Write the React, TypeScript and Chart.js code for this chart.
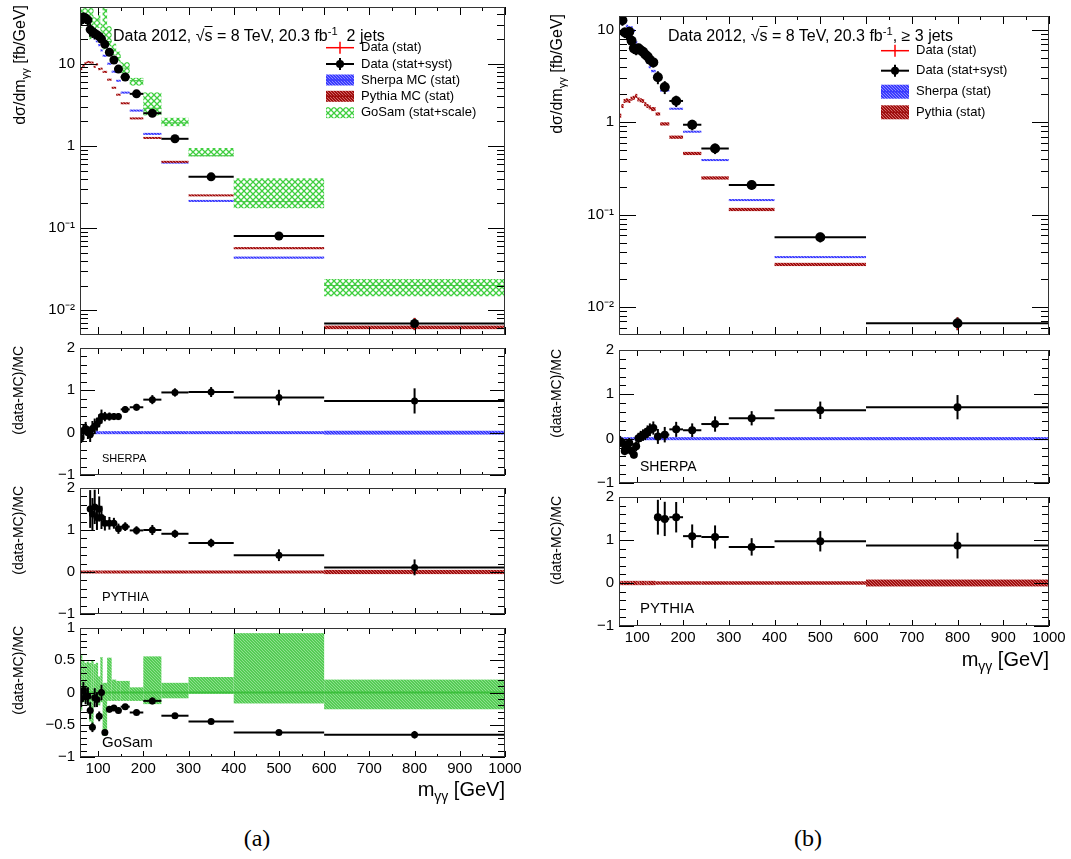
import React, { useEffect, useRef } from "react";
import { Chart, registerables } from "chart.js";

Chart.register(...registerables);

const FONT = '"Liberation Sans", Arial, Helvetica, sans-serif';
Chart.defaults.font.family = FONT;
Chart.defaults.color = "#000";

type Num = number | null;

// ================= (a) diphoton + 2 jets =================
const edges2j = [60, 65, 70, 75, 80, 85, 90, 95, 100, 105, 110, 120, 130, 140, 150, 170, 200, 240, 300, 400, 600, 1000];
const data2j = [34, 37, 36, 34, 26, 24.5, 23.5, 22.5, 21.5, 20, 17.2, 13.8, 11.1, 8.6, 6.9, 4.3, 2.5, 1.22, 0.42, 0.08, 0.0069];
const dataStat2j = [0.06, 0.06, 0.06, 0.07, 0.08, 0.08, 0.08, 0.07, 0.07, 0.07, 0.05, 0.05, 0.05, 0.05, 0.04, 0.04, 0.05, 0.04, 0.05, 0.09, 0.16];
const dataTot2j = [0.14, 0.13, 0.14, 0.15, 0.18, 0.16, 0.16, 0.13, 0.12, 0.12, 0.08, 0.07, 0.06, 0.06, 0.05, 0.05, 0.06, 0.05, 0.06, 0.1, 0.17];
const sherpa2j = [38.6, 35.2, 32.7, 34, 27.4, 22.3, 20.4, 18.75, 16.8, 14.5, 12.5, 10.0, 8.0, 6.2, 4.45, 2.69, 1.4, 0.626, 0.214, 0.0437, 0.0039];
const sherpaStat2j = [0.02, 0.02, 0.02, 0.02, 0.02, 0.02, 0.02, 0.02, 0.02, 0.02, 0.015, 0.015, 0.015, 0.015, 0.015, 0.015, 0.015, 0.015, 0.02, 0.03, 0.045];
const pythia2j = [8.6, 9.4, 10.2, 10.5, 10.4, 10.3, 9.2, 9.8, 8.6, 8.7, 7.96, 6.4, 5.1, 4.2, 3.3, 2.16, 1.25, 0.64, 0.25, 0.057, 0.0062];
const pythiaStat2j = [0.03, 0.03, 0.03, 0.03, 0.03, 0.03, 0.03, 0.03, 0.03, 0.03, 0.02, 0.02, 0.02, 0.02, 0.02, 0.02, 0.02, 0.02, 0.025, 0.03, 0.05];
const gosam2j = [37.8, 35.9, 37.9, 36.2, 36.1, 53.3, 25.5, 25.3, 34.1, 20, 45.3, 18.6, 14.6, 11.9, 8.85, 6.23, 2.87, 1.91, 0.76, 0.21, 0.02];
const gosamUp2j = [0.59, 0.5, 0.46, 0.48, 0.46, 0.5, 0.44, 0.46, 0.25, 0.55, 0.15, 0.54, 0.2, 0.18, 0.18, 0.08, 0.56, 0.15, 0.24, 0.92, 0.2];
const gosamDown2j = [-0.28, -0.15, -0.15, -0.2, -0.45, -0.58, -0.13, -0.13, -0.2, -0.15, -0.67, -0.13, -0.13, -0.13, -0.13, -0.13, -0.18, -0.09, -0.02, -0.17, -0.26];
const ratioSherpa2j: Num[] = [-0.12, 0.05, 0.1, 0.0, -0.05, 0.1, 0.15, 0.2, 0.28, 0.38, 0.38, 0.38, 0.38, 0.38, 0.55, 0.6, 0.78, 0.95, 0.96, 0.83, 0.75];
const ratioPythia2j: Num[] = [null, null, null, null, 1.5, 1.38, 1.55, 1.3, 1.5, 1.3, 1.16, 1.16, 1.16, 1.03, 1.08, 0.99, 1.0, 0.91, 0.69, 0.4, 0.11];
const ratioGosam2j: Num[] = [-0.1, 0.03, -0.05, -0.06, -0.28, -0.54, -0.08, -0.11, -0.37, 0.0, -0.62, -0.26, -0.24, -0.28, -0.22, -0.31, -0.13, -0.36, -0.45, -0.62, -0.655];

// ================= (b) diphoton + >= 3 jets =================
const edges3j = [60, 65, 70, 75, 80, 85, 90, 95, 100, 105, 110, 115, 120, 125, 130, 140, 150, 170, 200, 240, 300, 400, 600, 1000];
const data3j = [13.8, 12.7, 9.35, 9.1, 9.5, 7.6, 6.3, 6.1, 6.3, 6.0, 5.8, 5.4, 5.15, 4.75, 4.44, 3.07, 2.4, 1.7, 0.94, 0.52, 0.21, 0.057, 0.0067];
const dataStat3j = [0.08, 0.08, 0.08, 0.08, 0.08, 0.08, 0.08, 0.08, 0.08, 0.08, 0.08, 0.08, 0.08, 0.08, 0.08, 0.1, 0.1, 0.09, 0.09, 0.09, 0.08, 0.1, 0.15];
const dataTot3j = [0.13, 0.13, 0.13, 0.13, 0.13, 0.13, 0.13, 0.13, 0.12, 0.12, 0.12, 0.12, 0.12, 0.12, 0.12, 0.16, 0.16, 0.14, 0.13, 0.13, 0.11, 0.12, 0.16];
const sherpa3j = [14.7, 14.1, 13.0, 11.0, 10.6, 10.6, 9.8, 7.35, 6.24, 5.71, 5.37, 4.91, 4.44, 3.96, 3.58, 2.92, 2.2, 1.4, 0.79, 0.39, 0.144, 0.0348, 0.0039];
const sherpaStat3j = [0.03, 0.03, 0.03, 0.03, 0.03, 0.03, 0.03, 0.03, 0.03, 0.03, 0.03, 0.03, 0.03, 0.03, 0.03, 0.02, 0.02, 0.02, 0.02, 0.02, 0.02, 0.025, 0.035];
const pythia3j = [1.18, 1.5, 1.7, 1.73, 1.7, 1.8, 1.84, 1.93, 1.77, 1.73, 1.7, 1.57, 1.5, 1.45, 1.39, 1.23, 0.96, 0.69, 0.46, 0.25, 0.114, 0.029, 0.0036];
const pythiaStat3j = [0.05, 0.05, 0.05, 0.05, 0.05, 0.05, 0.05, 0.05, 0.05, 0.05, 0.05, 0.05, 0.05, 0.05, 0.05, 0.04, 0.04, 0.04, 0.04, 0.04, 0.04, 0.04, 0.08];
const ratioSherpa3j: Num[] = [-0.06, -0.1, -0.28, -0.17, -0.1, -0.28, -0.36, -0.17, 0.01, 0.05, 0.08, 0.1, 0.16, 0.2, 0.24, 0.05, 0.09, 0.21, 0.19, 0.33, 0.46, 0.64, 0.71];
const ratioPythia3j: Num[] = [null, null, null, null, null, null, null, null, null, null, null, null, null, null, null, 1.53, 1.49, 1.53, 1.09, 1.07, 0.84, 0.97, 0.87];

// ================= axes =================
const massTicks = [100, 200, 300, 400, 500, 600, 700, 800, 900, 1000];
const massMinorTicks = [150, 250, 350, 450, 550, 650, 750, 850, 950];
const logTickValues = [0.01, 0.1, 1, 10];
const logTickLabels = ["10\u207B\u00B2", "10\u207B\u00B9", "1", "10"];
const ratioTickValues = [-1, 0, 1, 2];
const ratioTickLabels = ["\u22121", "0", "1", "2"];
const gosamTickValues = [-1, -0.5, 0, 0.5, 1];
const gosamTickLabels = ["\u22121", "\u22120.5", "0", "0.5", "1"];

function logMinor(min: number, max: number): number[] {
  const out: number[] = [];
  for (let k = -3; k <= 2; k++) for (let m = 2; m <= 9; m++) {
    const v = m * Math.pow(10, k);
    if (v > min && v < max) out.push(v);
  }
  return out;
}
function linMinor(min: number, max: number, step: number, major: number): number[] {
  const out: number[] = [];
  const n = Math.round((max - min) / step);
  for (let i = 1; i < n; i++) {
    const v = +(min + i * step).toFixed(6);
    if (Math.abs(v / major - Math.round(v / major)) > 1e-6) out.push(v);
  }
  return out;
}

// ================= types =================
interface BandSpec { edges: number[]; lo: number[]; hi: number[]; mid: number[]; fill: string; line?: string; lineWidth?: number; minPx: number; }
interface PointSpec { edges: number[]; vals: Num[]; tot: Num[]; stat?: Num[]; radius: number; }
interface LegendItem { label: string; kind: "stat" | "tot" | "band"; fill?: string; line?: string; }
interface LegendSpec { x0: number; x1: number; tx: number; ys: number[]; sh: number; items: LegendItem[]; }
interface PanelSpec {
  key: string; x0: number; y0: number; w: number; h: number;
  log: boolean; yMin: number; yMax: number; yTicks: number[]; yLabels: string[]; yMinor: number[];
  showX: boolean; yMajLen: number; yMinLen: number; xMajLen: number; xMinLen: number;
  bands: BandSpec[]; points: PointSpec; legend?: LegendSpec;
}

const PADL = 70, PADT = 12, PADR = 26;

// ================= patterns =================
const patternCache = new WeakMap<CanvasRenderingContext2D, Record<string, CanvasPattern>>();
function makePattern(ctx: CanvasRenderingContext2D, key: string): CanvasPattern {
  const t = document.createElement("canvas");
  const g = t.getContext("2d") as CanvasRenderingContext2D;
  if (key === "gosamMain") {
    t.width = 6; t.height = 6;
    g.strokeStyle = "#3fcf3f"; g.lineWidth = 1.3;
    g.beginPath(); g.moveTo(0, 0); g.lineTo(6, 6); g.moveTo(6, 0); g.lineTo(0, 6); g.stroke();
  } else {
    const cols: Record<string, string[]> = {
      sherpa: ["#3b3bff", "#8c8cff"],
      pythia: ["#a00f0f", "#d36a6a"],
      gosamRatio: ["#55cc55", "#8fe08f"],
    };
    const c = cols[key];
    t.width = 3; t.height = 3;
    g.fillStyle = c[0]; g.fillRect(0, 0, 3, 3);
    g.fillStyle = c[1]; g.fillRect(0, 0, 1, 1); g.fillRect(1, 1, 1, 1); g.fillRect(2, 2, 1, 1);
  }
  return ctx.createPattern(t, "repeat") as CanvasPattern;
}
function fillOf(ctx: CanvasRenderingContext2D, key: string): CanvasPattern {
  let m = patternCache.get(ctx);
  if (!m) { m = {}; patternCache.set(ctx, m); }
  if (!m[key]) m[key] = makePattern(ctx, key);
  return m[key];
}

// ================= painting =================
function seg(ctx: CanvasRenderingContext2D, x1: number, y1: number, x2: number, y2: number) {
  ctx.beginPath(); ctx.moveTo(x1, y1); ctx.lineTo(x2, y2); ctx.stroke();
}

function paintBody(chart: any, spec: PanelSpec) {
  const ctx = chart.ctx as CanvasRenderingContext2D;
  const { left, right, top, bottom } = chart.chartArea;
  const X = (v: number) => chart.scales.x.getPixelForValue(v);
  const Y = (v: number) => chart.scales.y.getPixelForValue(v);
  ctx.save();
  ctx.beginPath(); ctx.rect(left, top, right - left, bottom - top); ctx.clip();
  for (const b of spec.bands) {
    ctx.fillStyle = fillOf(ctx, b.fill);
    for (let i = 0; i < b.mid.length; i++) {
      const xl = X(b.edges[i]), xr = X(b.edges[i + 1]);
      let y1 = Y(b.hi[i]), y2 = Y(b.lo[i]);
      if (y2 - y1 < b.minPx) { const c = Y(b.mid[i]); y1 = c - b.minPx / 2; y2 = c + b.minPx / 2; }
      ctx.fillRect(xl, y1, xr - xl, y2 - y1);
    }
    if (b.line) {
      ctx.strokeStyle = b.line; ctx.lineWidth = b.lineWidth || 1;
      for (let i = 0; i < b.mid.length; i++) {
        const yc = Y(b.mid[i]);
        seg(ctx, X(b.edges[i]), yc, X(b.edges[i + 1]), yc);
      }
    }
  }
  const p = spec.points;
  for (let i = 0; i < p.vals.length; i++) {
    const v = p.vals[i];
    if (v == null) continue;
    const xl = X(p.edges[i]), xr = X(p.edges[i + 1]);
    const xc = X((p.edges[i] + p.edges[i + 1]) / 2);
    const yc = Y(v);
    const e = p.tot[i] || 0;
    ctx.strokeStyle = "#000"; ctx.lineWidth = 2;
    seg(ctx, xl, yc, xr, yc);
    seg(ctx, xc, Y(v - e), xc, Y(v + e));
    if (p.stat) {
      const s = p.stat[i] || 0;
      ctx.strokeStyle = "#ff0000"; ctx.lineWidth = 1.5;
      seg(ctx, xc, Y(v - s), xc, Y(v + s));
    }
  }
  ctx.restore();
}

function paintFrame(chart: any, spec: PanelSpec) {
  const ctx = chart.ctx as CanvasRenderingContext2D;
  const { left, right, top, bottom } = chart.chartArea;
  const X = (v: number) => chart.scales.x.getPixelForValue(v);
  const Y = (v: number) => chart.scales.y.getPixelForValue(v);
  ctx.save();
  ctx.strokeStyle = "#000"; ctx.lineWidth = 1;
  ctx.beginPath();
  const xt = (v: number, len: number) => {
    const p = Math.round(X(v)) + 0.5;
    ctx.moveTo(p, bottom); ctx.lineTo(p, bottom - len);
    ctx.moveTo(p, top); ctx.lineTo(p, top + len);
  };
  const yt = (v: number, len: number) => {
    const p = Math.round(Y(v)) + 0.5;
    ctx.moveTo(left, p); ctx.lineTo(left + len, p);
    ctx.moveTo(right, p); ctx.lineTo(right - len, p);
  };
  massTicks.forEach((v) => xt(v, spec.xMajLen));
  massMinorTicks.forEach((v) => xt(v, spec.xMinLen));
  spec.yTicks.forEach((v) => yt(v, spec.yMajLen));
  spec.yMinor.forEach((v) => yt(v, spec.yMinLen));
  ctx.stroke();
  ctx.strokeStyle = "#333";
  ctx.strokeRect(left + 0.5, top + 0.5, right - left - 1, bottom - top - 1);

  const lg = spec.legend;
  if (lg) {
    const ox = spec.x0 - PADL, oy = spec.y0 - PADT;
    const x0 = lg.x0 - ox, x1 = lg.x1 - ox, xm = (x0 + x1) / 2, tx = lg.tx - ox;
    ctx.font = `13px ${FONT}`;
    ctx.textBaseline = "middle";
    ctx.textAlign = "left";
    lg.items.forEach((it, k) => {
      const yc = lg.ys[k] - oy;
      if (it.kind === "stat") {
        ctx.strokeStyle = "#ff0000"; ctx.lineWidth = 1.5;
        seg(ctx, x0, yc, x1, yc); seg(ctx, xm, yc - 6, xm, yc + 6);
      } else if (it.kind === "tot") {
        ctx.strokeStyle = "#000"; ctx.lineWidth = 2;
        seg(ctx, x0, yc, x1, yc); seg(ctx, xm, yc - 6, xm, yc + 6);
        ctx.fillStyle = "#000"; ctx.beginPath(); ctx.arc(xm, yc, 4, 0, Math.PI * 2); ctx.fill();
      } else {
        ctx.fillStyle = fillOf(ctx, it.fill as string);
        ctx.fillRect(x0, yc - lg.sh / 2, x1 - x0, lg.sh);
        if (it.line) { ctx.strokeStyle = it.line; ctx.lineWidth = 1.5; seg(ctx, x0, yc, x1, yc); }
      }
      ctx.fillStyle = "#000";
      ctx.fillText(it.label, tx, yc);
    });
  }
  ctx.restore();
}

function makeConfig(spec: PanelSpec, B: number): any {
  const e = spec.points.edges;
  const pts = spec.points.vals
    .map((y, i) => ({ x: (e[i] + e[i + 1]) / 2, y }))
    .filter((q) => q.y != null);
  return {
    type: "scatter",
    data: {
      datasets: [{
        label: "data", data: pts, pointRadius: spec.points.radius, pointHoverRadius: spec.points.radius,
        pointBackgroundColor: "#000", pointBorderColor: "#000", pointBorderWidth: 0, showLine: false,
      }],
    },
    options: {
      responsive: false, maintainAspectRatio: false, animation: false, devicePixelRatio: 1, events: [],
      layout: { padding: { left: 0, top: PADT, right: PADR, bottom: 0 }, autoPadding: false },
      plugins: { legend: { display: false }, tooltip: { enabled: false }, title: { display: false } },
      scales: {
        x: {
          type: "linear", position: "bottom", min: 60, max: 1000, bounds: "data",
          afterBuildTicks: (s: any) => { s.ticks = massTicks.map((v) => ({ value: v })); },
          afterFit: (s: any) => { s.height = B; },
          grid: { display: false, drawTicks: false }, border: { display: false },
          ticks: {
            display: spec.showX, autoSkip: false, maxRotation: 0, minRotation: 0, padding: 3,
            color: "#000", font: { size: 15, family: FONT }, callback: (v: any) => String(v),
          },
        },
        y: {
          type: spec.log ? "logarithmic" : "linear", position: "left", min: spec.yMin, max: spec.yMax, bounds: "data",
          afterBuildTicks: (s: any) => { s.ticks = spec.yTicks.map((v) => ({ value: v })); },
          afterFit: (s: any) => { s.width = PADL; },
          grid: { display: false, drawTicks: false }, border: { display: false },
          ticks: {
            autoSkip: false, padding: 5, color: "#000", font: { size: 15, family: FONT },
            callback: (_v: any, i: number) => spec.yLabels[i],
          },
        },
      },
    },
    plugins: [{
      id: "rootStyle",
      beforeDatasetsDraw: (c: any) => paintBody(c, spec),
      afterDraw: (c: any) => paintFrame(c, spec),
    }],
  };
}

function Panel({ spec }: { spec: PanelSpec }) {
  const ref = useRef<HTMLCanvasElement | null>(null);
  const B = spec.showX ? 30 : 12;
  const cw = spec.w + PADL + PADR, ch = spec.h + PADT + B;
  useEffect(() => {
    const cv = ref.current;
    if (!cv) return;
    const chart = new Chart(cv, makeConfig(spec, B));
    return () => chart.destroy();
  }, [spec]);
  return (
    <canvas ref={ref} width={cw} height={ch}
      style={{ position: "absolute", left: spec.x0 - PADL, top: spec.y0 - PADT, width: cw, height: ch }} />
  );
}

// ================= panel specs =================
const scale = (a: number[], b: number[], s: number) => a.map((v, i) => v * (1 + s * b[i]));
const zeros = (n: number) => new Array(n).fill(0);
const neg = (a: number[]) => a.map((v) => -v);
const ratioErr = (r: Num[], rel: number[]): Num[] => r.map((v, i) => (v == null ? null : rel[i] * (1 + v)));

const mainA: PanelSpec = {
  key: "mainA", x0: 80, y0: 5, w: 425, h: 332, log: true, yMin: 0.005, yMax: 49,
  yTicks: logTickValues, yLabels: logTickLabels, yMinor: logMinor(0.005, 49),
  showX: false, yMajLen: 17, yMinLen: 8, xMajLen: 8, xMinLen: 4,
  bands: [
    { edges: edges2j, lo: scale(gosam2j, gosamDown2j, 1), hi: scale(gosam2j, gosamUp2j, 1), mid: gosam2j, fill: "gosamMain", line: "#46c846", lineWidth: 1, minPx: 0 },
    { edges: edges2j, lo: scale(sherpa2j, sherpaStat2j, -1), hi: scale(sherpa2j, sherpaStat2j, 1), mid: sherpa2j, fill: "sherpa", minPx: 2 },
    { edges: edges2j, lo: scale(pythia2j, pythiaStat2j, -1), hi: scale(pythia2j, pythiaStat2j, 1), mid: pythia2j, fill: "pythia", minPx: 2 },
  ],
  points: { edges: edges2j, vals: data2j, tot: data2j.map((v, i) => v * dataTot2j[i]), stat: data2j.map((v, i) => v * dataStat2j[i]), radius: 4.5 },
  legend: {
    x0: 326, x1: 354, tx: 361, ys: [47.7, 64, 80, 96.3, 112.7], sh: 11,
    items: [
      { label: "Data (stat)", kind: "stat" },
      { label: "Data (stat+syst)", kind: "tot" },
      { label: "Sherpa MC (stat)", kind: "band", fill: "sherpa", line: "#3b3bff" },
      { label: "Pythia MC (stat)", kind: "band", fill: "pythia", line: "#a00f0f" },
      { label: "GoSam (stat+scale)", kind: "band", fill: "gosamMain" },
    ],
  },
};

const ratioCommon = {
  log: false, yMin: -1, yMax: 2, yTicks: ratioTickValues, yLabels: ratioTickLabels, yMinor: linMinor(-1, 2, 0.2, 1),
  yMajLen: 15, yMinLen: 7, xMajLen: 6, xMinLen: 3,
};

const sherpaA: PanelSpec = {
  ...ratioCommon, key: "sherpaA", x0: 80, y0: 346, w: 425, h: 131, showX: false,
  bands: [{ edges: edges2j, lo: neg(sherpaStat2j), hi: sherpaStat2j, mid: zeros(21), fill: "sherpa", minPx: 3 }],
  points: { edges: edges2j, vals: ratioSherpa2j, tot: ratioErr(ratioSherpa2j, dataTot2j), radius: 3.5 },
};
const pythiaA: PanelSpec = {
  ...ratioCommon, key: "pythiaA", x0: 80, y0: 486, w: 425, h: 130, showX: false,
  bands: [{ edges: edges2j, lo: neg(pythiaStat2j), hi: pythiaStat2j, mid: zeros(21), fill: "pythia", minPx: 3 }],
  points: { edges: edges2j, vals: ratioPythia2j, tot: ratioErr(ratioPythia2j, dataTot2j), radius: 3.5 },
};
const gosamA: PanelSpec = {
  key: "gosamA", x0: 80, y0: 626, w: 425, h: 131, showX: true,
  log: false, yMin: -1, yMax: 1, yTicks: gosamTickValues, yLabels: gosamTickLabels, yMinor: linMinor(-1, 1, 0.1, 0.5),
  yMajLen: 15, yMinLen: 7, xMajLen: 6, xMinLen: 3,
  bands: [{ edges: edges2j, lo: gosamDown2j, hi: gosamUp2j, mid: zeros(21), fill: "gosamRatio", line: "#3cbf3c", lineWidth: 2, minPx: 0 }],
  points: { edges: edges2j, vals: ratioGosam2j, tot: ratioErr(ratioGosam2j, dataTot2j), radius: 3.5 },
};

const mainB: PanelSpec = {
  key: "mainB", x0: 619, y0: 14, w: 430, h: 323, log: true, yMin: 0.005, yMax: 14.1,
  yTicks: logTickValues, yLabels: logTickLabels, yMinor: logMinor(0.005, 14.1),
  showX: false, yMajLen: 17, yMinLen: 8, xMajLen: 8, xMinLen: 4,
  bands: [
    { edges: edges3j, lo: scale(sherpa3j, sherpaStat3j, -1), hi: scale(sherpa3j, sherpaStat3j, 1), mid: sherpa3j, fill: "sherpa", minPx: 2 },
    { edges: edges3j, lo: scale(pythia3j, pythiaStat3j, -1), hi: scale(pythia3j, pythiaStat3j, 1), mid: pythia3j, fill: "pythia", minPx: 2 },
  ],
  points: { edges: edges3j, vals: data3j, tot: data3j.map((v, i) => v * dataTot3j[i]), stat: data3j.map((v, i) => v * dataStat3j[i]), radius: 5 },
  legend: {
    x0: 881, x1: 909, tx: 916, ys: [50.7, 70.7, 91.7, 112.3], sh: 14,
    items: [
      { label: "Data (stat)", kind: "stat" },
      { label: "Data (stat+syst)", kind: "tot" },
      { label: "Sherpa (stat)", kind: "band", fill: "sherpa", line: "#3b3bff" },
      { label: "Pythia (stat)", kind: "band", fill: "pythia", line: "#a00f0f" },
    ],
  },
};
const sherpaB: PanelSpec = {
  ...ratioCommon, key: "sherpaB", x0: 619, y0: 348, w: 430, h: 137, showX: false,
  bands: [{ edges: edges3j, lo: neg(sherpaStat3j), hi: sherpaStat3j, mid: zeros(23), fill: "sherpa", minPx: 3 }],
  points: { edges: edges3j, vals: ratioSherpa3j, tot: ratioErr(ratioSherpa3j, dataTot3j), radius: 4 },
};
const pythiaB: PanelSpec = {
  ...ratioCommon, key: "pythiaB", x0: 619, y0: 495, w: 430, h: 131, showX: true,
  bands: [{ edges: edges3j, lo: neg(pythiaStat3j), hi: pythiaStat3j, mid: zeros(23), fill: "pythia", minPx: 3 }],
  points: { edges: edges3j, vals: ratioPythia3j, tot: ratioErr(ratioPythia3j, dataTot3j), radius: 4 },
};

const panels = [mainA, sherpaA, pythiaA, gosamA, mainB, sherpaB, pythiaB];

// ================= text overlays =================
const sub = { fontSize: "0.7em", verticalAlign: "-0.35em" };
const sup = { fontSize: "0.7em", verticalAlign: "0.5em" };

function Txt({ x, top, size, children, align, family }: any) {
  const tr = align === "right" ? "translateX(-100%)" : align === "center" ? "translateX(-50%)" : "none";
  return (
    <div style={{ position: "absolute", left: x, top, fontSize: size, lineHeight: `${size}px`, fontFamily: family || FONT, color: "#000", whiteSpace: "pre", transform: tr }}>
      {children}
    </div>
  );
}
function YTitle({ cx, top, size, children }: any) {
  return (
    <div style={{ position: "absolute", left: cx - size / 2, top, fontSize: size, lineHeight: `${size}px`, fontFamily: FONT, color: "#000", whiteSpace: "pre", transformOrigin: "0 0", transform: "rotate(-90deg) translateX(-100%)" }}>
      {children}
    </div>
  );
}
const Sqrt = () => (<span>{"\u221A"}<span style={{ textDecoration: "overline" }}>s</span></span>);
const DsTitle = () => (<span>d{"\u03C3"}/dm<span style={sub}>{"\u03B3\u03B3"}</span> [fb/GeV]</span>);
const MTitle = () => (<span>m<span style={sub}>{"\u03B3\u03B3"}</span> [GeV]</span>);

export default function App() {
  return (
    <div style={{ position: "absolute", left: 0, top: 0, width: 1071, height: 859, background: "#fff", overflow: "hidden" }}>
      {panels.map((p) => <Panel key={p.key} spec={p} />)}

      <Txt x={113} top={23} size={16}>Data 2012, <Sqrt /> = 8 TeV, 20.3 fb<span style={sup}>-1</span>  2 jets</Txt>
      <Txt x={668} top={23} size={16}>Data 2012, <Sqrt /> = 8 TeV, 20.3 fb<span style={sup}>-1</span>, {"\u2265"} 3 jets</Txt>

      <YTitle cx={20} top={5} size={16}><DsTitle /></YTitle>
      <YTitle cx={557} top={14} size={16}><DsTitle /></YTitle>
      <YTitle cx={18} top={346} size={14}>(data-MC)/MC</YTitle>
      <YTitle cx={18} top={486} size={14}>(data-MC)/MC</YTitle>
      <YTitle cx={18} top={626} size={14}>(data-MC)/MC</YTitle>
      <YTitle cx={556} top={349} size={14}>(data-MC)/MC</YTitle>
      <YTitle cx={556} top={496} size={14}>(data-MC)/MC</YTitle>

      <Txt x={102} top={453} size={11}>SHERPA</Txt>
      <Txt x={102} top={590} size={13}>PYTHIA</Txt>
      <Txt x={102} top={734} size={15}>GoSam</Txt>
      <Txt x={640} top={459} size={14}>SHERPA</Txt>
      <Txt x={640} top={600} size={15}>PYTHIA</Txt>

      <Txt x={505} top={779} size={20} align="right"><MTitle /></Txt>
      <Txt x={1049} top={649} size={20} align="right"><MTitle /></Txt>

      <Txt x={257} top={826} size={24} align="center" family='"Liberation Serif", "DejaVu Serif", serif'>(a)</Txt>
      <Txt x={808} top={826} size={24} align="center" family='"Liberation Serif", "DejaVu Serif", serif'>(b)</Txt>
    </div>
  );
}
